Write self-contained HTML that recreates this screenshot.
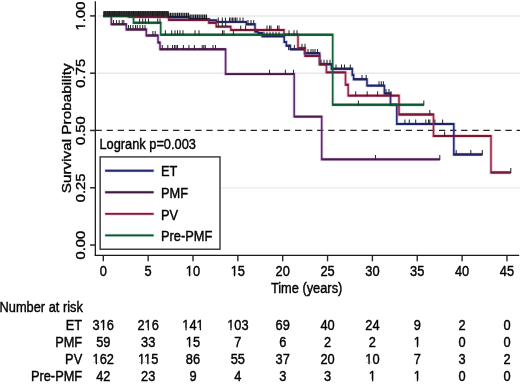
<!DOCTYPE html>
<html><head><meta charset="utf-8"><style>
html,body{margin:0;padding:0;background:#fff;overflow:hidden}
svg{display:block;will-change:transform}
text{font-family:"Liberation Sans",sans-serif;fill:#000;stroke:#000;stroke-width:0.42px}
</style></head><body>
<svg width="520" height="384" viewBox="0 0 520 384">
<rect width="520" height="384" fill="#fff"/>
<line x1="97.5" y1="16.00" x2="520" y2="16.00" stroke="#e8e8e8" stroke-width="1.4"/>
<line x1="97.5" y1="73.29" x2="520" y2="73.29" stroke="#e8e8e8" stroke-width="1.4"/>
<line x1="221.5" y1="187.86" x2="520" y2="187.86" stroke="#e8e8e8" stroke-width="1.4"/>
<line x1="95.52" y1="130.4" x2="520" y2="130.4" stroke="#222" stroke-width="1.3" stroke-dasharray="6.3 4.78"/>
<path d="M103.3,16 H140 V16.6 H168 V17.3 H189 V19.2 H209.3 V20.4 H216.5 V21.9 H246.3 V24.3 H255 V31.5 H258 V33 H262.2 V36.2 H284.2 V42 H286.3 V45.7 H290.3 V49.3 H304.6 V53.3 H319.6 V64.2 H331.4 V68.8 H352.3 V75 H353.6 V79.3 H367 V85.6 H384.4 V93.5 H390.5 V104.8 H396.8 V124 H453.8 V154.5 H482.3" stroke="#4050c0" stroke-opacity="0.28" stroke-width="3.3" fill="none" stroke-linejoin="miter"/>
<path d="M103.3,16 H111.3 V24.3 H126.3 V29.5 H146.3 V35.5 H158 V42.5 H160 V49.3 H225.6 V74.1 H294.2 V116.6 H321.7 V159.4 H439.8" stroke="#9048b0" stroke-opacity="0.28" stroke-width="3.3" fill="none" stroke-linejoin="miter"/>
<path d="M103.3,16 H128.5 V16.9 H168.8 V20.0 H208.7 V22.9 H216.2 V26.6 H230.8 V30.0 H284 V34.7 H298 V48.1 H305 V56 H319.6 V64.2 H326.4 V72.4 H345.5 V84.7 H348.2 V95.6 H399 V114.5 H433.5 V136 H491 V172.5 H510.8" stroke="#e82848" stroke-opacity="0.28" stroke-width="3.3" fill="none" stroke-linejoin="miter"/>
<path d="M103.3,16 H133.5 V22.8 H160.7 V34.7 H332.7 V104.8 H423.8" stroke="#30a060" stroke-opacity="0.28" stroke-width="3.3" fill="none" stroke-linejoin="miter"/>
<path transform="scale(0.82,1)" d="M125.98,16 H170.73 V16.6 H204.88 V17.3 H230.49 V19.2 H255.24 V20.4 H264.02 V21.9 H300.37 V24.3 H310.98 V31.5 H314.63 V33 H319.76 V36.2 H346.59 V42 H349.15 V45.7 H354.02 V49.3 H371.46 V53.3 H389.76 V64.2 H404.15 V68.8 H429.63 V75 H431.22 V79.3 H447.56 V85.6 H468.78 V93.5 H476.22 V104.8 H483.90 V124 H553.41 V154.5 H588.17" stroke="#262c74" stroke-width="1.9" fill="none" stroke-linejoin="miter" stroke-linecap="butt"/>
<path d="M103.30,16.00H140.00M140.00,16.60H168.00M168.00,17.30H189.00M189.00,19.20H209.30M209.30,20.40H216.50M216.50,21.90H246.30M246.30,24.30H255.00M255.00,31.50H258.00M258.00,33.00H262.20M262.20,36.20H284.20M284.20,42.00H286.30M286.30,45.70H290.30M290.30,49.30H304.60M304.60,53.30H319.60M319.60,64.20H331.40M331.40,68.80H352.30M352.30,75.00H353.60M353.60,79.30H367.00M367.00,85.60H384.40M384.40,93.50H390.50M390.50,104.80H396.80M396.80,124.00H453.80M453.80,154.50H482.30" stroke="#1e2268" stroke-width="1.9" fill="none" stroke-linecap="butt"/>
<path transform="scale(0.82,1)" d="M125.98,16 H135.73 V24.3 H154.02 V29.5 H178.41 V35.5 H192.68 V42.5 H195.12 V49.3 H275.12 V74.1 H358.78 V116.6 H392.32 V159.4 H536.34" stroke="#5f2d68" stroke-width="1.9" fill="none" stroke-linejoin="miter" stroke-linecap="butt"/>
<path d="M103.30,16.00H111.30M111.30,24.30H126.30M126.30,29.50H146.30M146.30,35.50H158.00M158.00,42.50H160.00M160.00,49.30H225.60M225.60,74.10H294.20M294.20,116.60H321.70M321.70,159.40H439.80" stroke="#4c1a48" stroke-width="1.9" fill="none" stroke-linecap="butt"/>
<path transform="scale(0.82,1)" d="M125.98,16 H156.71 V16.9 H205.85 V20.0 H254.51 V22.9 H263.66 V26.6 H281.46 V30.0 H346.34 V34.7 H363.41 V48.1 H371.95 V56 H389.76 V64.2 H398.05 V72.4 H421.34 V84.7 H424.63 V95.6 H486.59 V114.5 H528.66 V136 H598.78 V172.5 H622.93" stroke="#902a52" stroke-width="1.9" fill="none" stroke-linejoin="miter" stroke-linecap="butt"/>
<path d="M103.30,16.00H128.50M128.50,16.90H168.80M168.80,20.00H208.70M208.70,22.90H216.20M216.20,26.60H230.80M230.80,30.00H284.00M284.00,34.70H298.00M298.00,48.10H305.00M305.00,56.00H319.60M319.60,64.20H326.40M326.40,72.40H345.50M345.50,84.70H348.20M348.20,95.60H399.00M399.00,114.50H433.50M433.50,136.00H491.00M491.00,172.50H510.80" stroke="#741834" stroke-width="1.9" fill="none" stroke-linecap="butt"/>
<path transform="scale(0.82,1)" d="M125.98,16 H162.80 V22.8 H195.98 V34.7 H405.73 V104.8 H516.83" stroke="#185e38" stroke-width="1.9" fill="none" stroke-linejoin="miter" stroke-linecap="butt"/>
<path d="M103.30,16.00H133.50M133.50,22.80H160.70M160.70,34.70H332.70M332.70,104.80H423.80" stroke="#0d5a30" stroke-width="1.9" fill="none" stroke-linecap="butt"/>
<rect x="103.6" y="11.4" width="65" height="4.2" fill="#555"/>
<path d="M104.20,16.2V11.1M105.92,16.2V11.1M107.64,16.2V11.1M109.36,16.2V11.1M111.08,16.2V11.1M112.80,16.2V11.1M114.52,16.2V11.1M116.24,16.2V11.1M117.96,16.2V11.1M119.68,16.2V11.1M121.40,16.2V11.1M123.12,16.2V11.1M124.84,16.2V11.1M126.56,16.2V11.1M128.28,16.2V11.1M130.00,16.2V11.1M131.72,16.2V11.1M133.44,16.2V11.1M135.16,16.2V11.1M136.88,16.2V11.1M138.60,16.2V11.1M140.32,16.2V11.1M142.04,16.2V11.1M143.76,16.2V11.1M145.48,16.2V11.1M147.20,16.2V11.1M148.92,16.2V11.1M150.64,16.2V11.1M152.36,16.2V11.1M154.08,16.2V11.1M155.80,16.2V11.1M157.52,16.2V11.1M159.24,16.2V11.1M160.96,16.2V11.1M162.68,16.2V11.1M164.40,16.2V11.1M166.12,16.2V11.1M167.84,16.2V11.1" stroke="#111" stroke-width="1.25" fill="none"/>
<path d="M168.60,17.6V12.8M170.40,17.6V12.8M172.20,17.6V12.8M174.00,17.6V12.8M175.80,17.6V12.8M177.60,17.6V12.8M179.40,17.6V12.8M181.20,17.6V12.8M183.00,17.6V12.8M184.80,17.6V12.8M186.60,17.6V12.8M188.40,17.6V12.8M190.20,19.4V14.4M192.00,19.4V14.4M193.80,19.4V14.4M195.60,19.4V14.4M197.40,19.4V14.4M199.20,19.4V14.4M201.00,19.4V14.4M202.80,19.4V14.4M204.60,19.4V14.4M206.40,19.4V14.4" stroke="#16161c" stroke-width="1.3" fill="none"/>
<path d="M104.0,16.6V11.6M105.6,16.6V11.6M107.2,16.6V11.6M108.8,16.6V11.6M110.4,16.6V11.6M112.0,16.6V11.6M113.6,16.6V11.6M115.2,16.6V11.6M116.8,16.6V11.6M118.4,16.6V11.6M120.0,16.6V11.6M121.6,16.6V11.6M123.2,16.6V11.6M124.8,16.6V11.6M126.4,16.6V11.6M128.0,16.6V11.6M129.6,16.6V11.6M131.2,16.6V11.6M132.8,16.6V11.6M134.4,16.6V11.6M136.0,16.6V11.6M137.6,16.6V11.6M139.2,16.6V11.6M140.8,16.6V11.6M142.4,16.6V11.6M144.0,16.6V11.6M145.6,16.6V11.6M147.2,16.6V11.6M148.8,16.6V11.6M150.4,16.6V11.6M152.0,16.6V11.6M153.6,16.6V11.6M155.2,16.6V11.6M156.8,16.6V11.6M158.4,16.6V11.6M160.0,16.6V11.6M161.6,16.6V11.6M163.2,16.6V11.6M164.8,16.6V11.6M166.4,16.6V11.6M168.0,16.6V11.6M113.5,24.9V19.9M116.5,24.9V19.9M119.2,24.9V19.9M122.3,24.9V19.9M123.8,24.9V19.9M128.5,30.1V25.1M130.5,30.1V25.1M133.0,30.1V25.1M135.5,30.1V25.1M137.3,30.1V25.1M140.0,30.1V25.1M142.7,30.1V25.1M145.0,30.1V25.1M152.9,36.1V31.1M155.2,36.1V31.1M162.3,49.9V44.9M167.8,49.9V44.9M172.5,49.9V44.9M174.5,49.9V44.9M176.0,49.9V44.9M177.5,49.9V44.9M183.4,49.9V44.9M188.9,49.9V44.9M194.4,49.9V44.9M202.2,49.9V44.9M203.8,49.9V44.9M205.3,49.9V44.9M213.0,49.9V44.9M215.5,49.9V44.9M269.5,74.7V69.7M285.4,74.7V69.7M293.5,74.7V69.7M375.5,160.0V155.0M439.8,160.0V155.0M139.6,23.4V18.4M142.7,23.4V18.4M145.4,23.4V18.4M148.5,23.4V18.4M157.7,23.4V18.4M160.0,23.4V18.4M165.4,35.3V30.3M171.7,35.3V30.3M175.0,35.3V30.3M177.5,35.3V30.3M180.0,35.3V30.3M183.0,35.3V30.3M195.0,35.3V30.3M199.0,35.3V30.3M222.5,35.3V30.3M224.0,35.3V30.3M233.4,35.3V30.3M289.0,35.3V30.3M294.0,35.3V30.3M297.0,35.3V30.3M358.4,105.4V100.4M423.8,105.4V100.4M218.3,22.5V17.5M222.3,22.5V17.5M225.4,22.5V17.5M229.5,22.5V17.5M231.0,22.5V17.5M232.5,22.5V17.5M234.0,22.5V17.5M235.5,22.5V17.5M237.0,22.5V17.5M240.0,22.5V17.5M243.0,22.5V17.5M218.3,27.2V22.2M222.3,27.2V22.2M225.7,27.2V22.2M248.0,24.9V19.9M251.0,24.9V19.9M253.7,24.9V19.9M264.0,36.8V31.8M267.0,36.8V31.8M270.0,36.8V31.8M273.0,36.8V31.8M276.0,36.8V31.8M279.0,36.8V31.8M240.7,30.6V25.6M245.6,30.6V25.6M267.0,30.6V25.6M269.5,30.6V25.6M271.0,30.6V25.6M277.5,30.6V25.6M279.0,30.6V25.6M288.6,49.9V44.9M294.4,49.9V44.9M302.0,48.7V43.7M305.0,48.7V43.7M308.0,53.9V48.9M311.0,53.9V48.9M313.0,53.9V48.9M315.0,53.9V48.9M317.5,53.9V48.9M321.0,64.8V59.8M324.0,64.8V59.8M327.0,64.8V59.8M330.0,64.8V59.8M336.0,69.4V64.4M341.5,69.4V64.4M344.5,69.4V64.4M350.3,69.4V64.4M362.0,79.9V74.9M366.2,79.9V74.9M379.0,86.2V81.2M381.3,86.2V81.2M383.4,86.2V81.2M386.0,94.1V89.1M389.0,94.1V89.1M355.7,96.2V91.2M367.2,96.2V91.2M377.6,96.2V91.2M391.0,96.2V91.2M404.9,124.6V119.6M409.3,124.6V119.6M415.7,124.6V119.6M425.8,124.6V119.6M428.5,124.6V119.6M429.8,124.6V119.6M434.9,124.6V119.6M442.6,124.6V119.6M429.8,115.1V110.1M444.6,136.6V131.6M456.2,155.1V150.1M470.8,155.1V150.1M482.3,155.1V150.1M510.8,173.1V168.1" stroke="#2a2a2a" stroke-width="1.05" fill="none"/>
<line x1="95.35" y1="1.2" x2="95.35" y2="255.8" stroke="#1e1e1e" stroke-width="1.3"/>
<line x1="94.7" y1="255.25" x2="519.2" y2="255.25" stroke="#1a1a1a" stroke-width="1.25"/>
<line x1="90.1" y1="245.05" x2="96" y2="245.05" stroke="#262626" stroke-width="1.5"/>
<line x1="90.1" y1="187.76" x2="96" y2="187.76" stroke="#262626" stroke-width="1.5"/>
<line x1="90.1" y1="130.47" x2="96" y2="130.47" stroke="#262626" stroke-width="1.5"/>
<line x1="90.1" y1="73.19" x2="96" y2="73.19" stroke="#262626" stroke-width="1.5"/>
<line x1="90.1" y1="15.90" x2="96" y2="15.90" stroke="#262626" stroke-width="1.5"/>
<line x1="103.30" y1="255" x2="103.30" y2="261.3" stroke="#262626" stroke-width="1.4"/>
<line x1="148.15" y1="255" x2="148.15" y2="261.3" stroke="#262626" stroke-width="1.4"/>
<line x1="193.00" y1="255" x2="193.00" y2="261.3" stroke="#262626" stroke-width="1.4"/>
<line x1="237.85" y1="255" x2="237.85" y2="261.3" stroke="#262626" stroke-width="1.4"/>
<line x1="282.70" y1="255" x2="282.70" y2="261.3" stroke="#262626" stroke-width="1.4"/>
<line x1="327.55" y1="255" x2="327.55" y2="261.3" stroke="#262626" stroke-width="1.4"/>
<line x1="372.40" y1="255" x2="372.40" y2="261.3" stroke="#262626" stroke-width="1.4"/>
<line x1="417.25" y1="255" x2="417.25" y2="261.3" stroke="#262626" stroke-width="1.4"/>
<line x1="462.10" y1="255" x2="462.10" y2="261.3" stroke="#262626" stroke-width="1.4"/>
<line x1="506.95" y1="255" x2="506.95" y2="261.3" stroke="#262626" stroke-width="1.4"/>
<g transform="translate(84.7,245.15) rotate(-90) scale(1,0.86)"><text text-anchor="middle" font-size="14.8">0.00</text></g>
<g transform="translate(84.7,187.8625) rotate(-90) scale(1,0.86)"><text text-anchor="middle" font-size="14.8">0.25</text></g>
<g transform="translate(84.7,130.575) rotate(-90) scale(1,0.86)"><text text-anchor="middle" font-size="14.8">0.50</text></g>
<g transform="translate(84.7,73.2875) rotate(-90) scale(1,0.86)"><text text-anchor="middle" font-size="14.8">0.75</text></g>
<g transform="translate(84.7,16.0) rotate(-90) scale(1,0.86)"><text text-anchor="middle" font-size="14.8">1.00</text><rect x="-14.25" y="-1.67" width="3.49" height="3.07" fill="#fff"/><rect x="-9.29" y="-1.67" width="3.37" height="3.07" fill="#fff"/></g>
<g transform="translate(70.6,128.25) rotate(-90) scale(1,0.86)"><text text-anchor="middle" font-size="15.3">Survival Probability</text></g>
<g transform="translate(103.3,276.2) scale(0.844,1)"><text text-anchor="middle" font-size="15.2">0</text></g>
<g transform="translate(148.15,276.2) scale(0.844,1)"><text text-anchor="middle" font-size="15.2">5</text></g>
<g transform="translate(193.0,276.2) scale(0.844,1)"><text text-anchor="middle" font-size="15.2">10</text><rect x="-8.27" y="-1.70" width="3.56" height="3.10" fill="#fff"/><rect x="-3.21" y="-1.70" width="3.44" height="3.10" fill="#fff"/></g>
<g transform="translate(237.85,276.2) scale(0.844,1)"><text text-anchor="middle" font-size="15.2">15</text><rect x="-8.27" y="-1.70" width="3.56" height="3.10" fill="#fff"/><rect x="-3.21" y="-1.70" width="3.44" height="3.10" fill="#fff"/></g>
<g transform="translate(282.7,276.2) scale(0.844,1)"><text text-anchor="middle" font-size="15.2">20</text></g>
<g transform="translate(327.55,276.2) scale(0.844,1)"><text text-anchor="middle" font-size="15.2">25</text></g>
<g transform="translate(372.4,276.2) scale(0.844,1)"><text text-anchor="middle" font-size="15.2">30</text></g>
<g transform="translate(417.25,276.2) scale(0.844,1)"><text text-anchor="middle" font-size="15.2">35</text></g>
<g transform="translate(462.1,276.2) scale(0.844,1)"><text text-anchor="middle" font-size="15.2">40</text></g>
<g transform="translate(506.95,276.2) scale(0.844,1)"><text text-anchor="middle" font-size="15.2">45</text></g>
<g transform="translate(306.6,293.1) scale(0.844,1)"><text text-anchor="middle" font-size="15.2">Time (years)</text></g>
<g transform="translate(99.4,148.7) scale(0.844,1)"><text text-anchor="start" font-size="15.2">Logrank p=0.003</text></g>
<rect x="100.15" y="156.9" width="119.85" height="92.35" fill="#fff" stroke="#3a3a3a" stroke-width="1.45"/>
<line x1="104.6" y1="170.7" x2="154.2" y2="170.7" stroke="#4050c0" stroke-opacity="0.28" stroke-width="3.3"/>
<line x1="105.2" y1="170.7" x2="153.6" y2="170.7" stroke="#232a70" stroke-width="1.9"/>
<g transform="translate(161,176.3) scale(0.844,1)"><text text-anchor="start" font-size="15.2">ET</text></g>
<line x1="104.6" y1="192.3" x2="154.2" y2="192.3" stroke="#9048b0" stroke-opacity="0.28" stroke-width="3.3"/>
<line x1="105.2" y1="192.3" x2="153.6" y2="192.3" stroke="#3e1a40" stroke-width="1.9"/>
<g transform="translate(161,197.9) scale(0.844,1)"><text text-anchor="start" font-size="15.2">PMF</text></g>
<line x1="104.6" y1="213.9" x2="154.2" y2="213.9" stroke="#e82848" stroke-opacity="0.28" stroke-width="3.3"/>
<line x1="105.2" y1="213.9" x2="153.6" y2="213.9" stroke="#7c1a3c" stroke-width="1.9"/>
<g transform="translate(161,219.5) scale(0.844,1)"><text text-anchor="start" font-size="15.2">PV</text></g>
<line x1="104.6" y1="235.4" x2="154.2" y2="235.4" stroke="#30a060" stroke-opacity="0.28" stroke-width="3.3"/>
<line x1="105.2" y1="235.4" x2="153.6" y2="235.4" stroke="#0f5030" stroke-width="1.9"/>
<g transform="translate(161,241.0) scale(0.844,1)"><text text-anchor="start" font-size="15.2">Pre-PMF</text></g>
<g transform="translate(-0.5,312.2) scale(0.844,1)"><text text-anchor="start" font-size="15.2">Number at risk</text></g>
<g transform="translate(82.2,329.8) scale(0.844,1)"><text text-anchor="end" font-size="15.2">ET</text></g>
<g transform="translate(103.3,329.8) scale(0.844,1)"><text text-anchor="middle" font-size="15.2">316</text><rect x="-4.05" y="-1.70" width="3.56" height="3.10" fill="#fff"/><rect x="1.02" y="-1.70" width="3.44" height="3.10" fill="#fff"/></g>
<g transform="translate(148.15,329.8) scale(0.844,1)"><text text-anchor="middle" font-size="15.2">216</text><rect x="-4.05" y="-1.70" width="3.56" height="3.10" fill="#fff"/><rect x="1.02" y="-1.70" width="3.44" height="3.10" fill="#fff"/></g>
<g transform="translate(193.0,329.8) scale(0.844,1)"><text text-anchor="middle" font-size="15.2">141</text><rect x="-12.50" y="-1.70" width="3.56" height="3.10" fill="#fff"/><rect x="-7.43" y="-1.70" width="3.44" height="3.10" fill="#fff"/><rect x="4.41" y="-1.70" width="3.56" height="3.10" fill="#fff"/><rect x="9.47" y="-1.70" width="3.44" height="3.10" fill="#fff"/></g>
<g transform="translate(237.85,329.8) scale(0.844,1)"><text text-anchor="middle" font-size="15.2">103</text><rect x="-12.50" y="-1.70" width="3.56" height="3.10" fill="#fff"/><rect x="-7.43" y="-1.70" width="3.44" height="3.10" fill="#fff"/></g>
<g transform="translate(282.7,329.8) scale(0.844,1)"><text text-anchor="middle" font-size="15.2">69</text></g>
<g transform="translate(327.55,329.8) scale(0.844,1)"><text text-anchor="middle" font-size="15.2">40</text></g>
<g transform="translate(372.4,329.8) scale(0.844,1)"><text text-anchor="middle" font-size="15.2">24</text></g>
<g transform="translate(417.25,329.8) scale(0.844,1)"><text text-anchor="middle" font-size="15.2">9</text></g>
<g transform="translate(462.1,329.8) scale(0.844,1)"><text text-anchor="middle" font-size="15.2">2</text></g>
<g transform="translate(506.95,329.8) scale(0.844,1)"><text text-anchor="middle" font-size="15.2">0</text></g>
<g transform="translate(82.2,347.1) scale(0.844,1)"><text text-anchor="end" font-size="15.2">PMF</text></g>
<g transform="translate(103.3,347.1) scale(0.844,1)"><text text-anchor="middle" font-size="15.2">59</text></g>
<g transform="translate(148.15,347.1) scale(0.844,1)"><text text-anchor="middle" font-size="15.2">33</text></g>
<g transform="translate(193.0,347.1) scale(0.844,1)"><text text-anchor="middle" font-size="15.2">15</text><rect x="-8.27" y="-1.70" width="3.56" height="3.10" fill="#fff"/><rect x="-3.21" y="-1.70" width="3.44" height="3.10" fill="#fff"/></g>
<g transform="translate(237.85,347.1) scale(0.844,1)"><text text-anchor="middle" font-size="15.2">7</text></g>
<g transform="translate(282.7,347.1) scale(0.844,1)"><text text-anchor="middle" font-size="15.2">6</text></g>
<g transform="translate(327.55,347.1) scale(0.844,1)"><text text-anchor="middle" font-size="15.2">2</text></g>
<g transform="translate(372.4,347.1) scale(0.844,1)"><text text-anchor="middle" font-size="15.2">2</text></g>
<g transform="translate(417.25,347.1) scale(0.844,1)"><text text-anchor="middle" font-size="15.2">1</text><rect x="-4.05" y="-1.70" width="3.56" height="3.10" fill="#fff"/><rect x="1.02" y="-1.70" width="3.44" height="3.10" fill="#fff"/></g>
<g transform="translate(462.1,347.1) scale(0.844,1)"><text text-anchor="middle" font-size="15.2">0</text></g>
<g transform="translate(506.95,347.1) scale(0.844,1)"><text text-anchor="middle" font-size="15.2">0</text></g>
<g transform="translate(82.2,364.4) scale(0.844,1)"><text text-anchor="end" font-size="15.2">PV</text></g>
<g transform="translate(103.3,364.4) scale(0.844,1)"><text text-anchor="middle" font-size="15.2">162</text><rect x="-12.50" y="-1.70" width="3.56" height="3.10" fill="#fff"/><rect x="-7.43" y="-1.70" width="3.44" height="3.10" fill="#fff"/></g>
<g transform="translate(148.15,364.4) scale(0.844,1)"><text text-anchor="middle" font-size="15.2">115</text><rect x="-11.94" y="-1.70" width="3.56" height="3.10" fill="#fff"/><rect x="-6.87" y="-1.70" width="3.44" height="3.10" fill="#fff"/><rect x="-4.61" y="-1.70" width="3.56" height="3.10" fill="#fff"/><rect x="0.45" y="-1.70" width="3.44" height="3.10" fill="#fff"/></g>
<g transform="translate(193.0,364.4) scale(0.844,1)"><text text-anchor="middle" font-size="15.2">86</text></g>
<g transform="translate(237.85,364.4) scale(0.844,1)"><text text-anchor="middle" font-size="15.2">55</text></g>
<g transform="translate(282.7,364.4) scale(0.844,1)"><text text-anchor="middle" font-size="15.2">37</text></g>
<g transform="translate(327.55,364.4) scale(0.844,1)"><text text-anchor="middle" font-size="15.2">20</text></g>
<g transform="translate(372.4,364.4) scale(0.844,1)"><text text-anchor="middle" font-size="15.2">10</text><rect x="-8.27" y="-1.70" width="3.56" height="3.10" fill="#fff"/><rect x="-3.21" y="-1.70" width="3.44" height="3.10" fill="#fff"/></g>
<g transform="translate(417.25,364.4) scale(0.844,1)"><text text-anchor="middle" font-size="15.2">7</text></g>
<g transform="translate(462.1,364.4) scale(0.844,1)"><text text-anchor="middle" font-size="15.2">3</text></g>
<g transform="translate(506.95,364.4) scale(0.844,1)"><text text-anchor="middle" font-size="15.2">2</text></g>
<g transform="translate(82.2,381.0) scale(0.844,1)"><text text-anchor="end" font-size="15.2">Pre-PMF</text></g>
<g transform="translate(103.3,381.0) scale(0.844,1)"><text text-anchor="middle" font-size="15.2">42</text></g>
<g transform="translate(148.15,381.0) scale(0.844,1)"><text text-anchor="middle" font-size="15.2">23</text></g>
<g transform="translate(193.0,381.0) scale(0.844,1)"><text text-anchor="middle" font-size="15.2">9</text></g>
<g transform="translate(237.85,381.0) scale(0.844,1)"><text text-anchor="middle" font-size="15.2">4</text></g>
<g transform="translate(282.7,381.0) scale(0.844,1)"><text text-anchor="middle" font-size="15.2">3</text></g>
<g transform="translate(327.55,381.0) scale(0.844,1)"><text text-anchor="middle" font-size="15.2">3</text></g>
<g transform="translate(372.4,381.0) scale(0.844,1)"><text text-anchor="middle" font-size="15.2">1</text><rect x="-4.05" y="-1.70" width="3.56" height="3.10" fill="#fff"/><rect x="1.02" y="-1.70" width="3.44" height="3.10" fill="#fff"/></g>
<g transform="translate(417.25,381.0) scale(0.844,1)"><text text-anchor="middle" font-size="15.2">1</text><rect x="-4.05" y="-1.70" width="3.56" height="3.10" fill="#fff"/><rect x="1.02" y="-1.70" width="3.44" height="3.10" fill="#fff"/></g>
<g transform="translate(462.1,381.0) scale(0.844,1)"><text text-anchor="middle" font-size="15.2">0</text></g>
<g transform="translate(506.95,381.0) scale(0.844,1)"><text text-anchor="middle" font-size="15.2">0</text></g>
</svg>
</body></html>
